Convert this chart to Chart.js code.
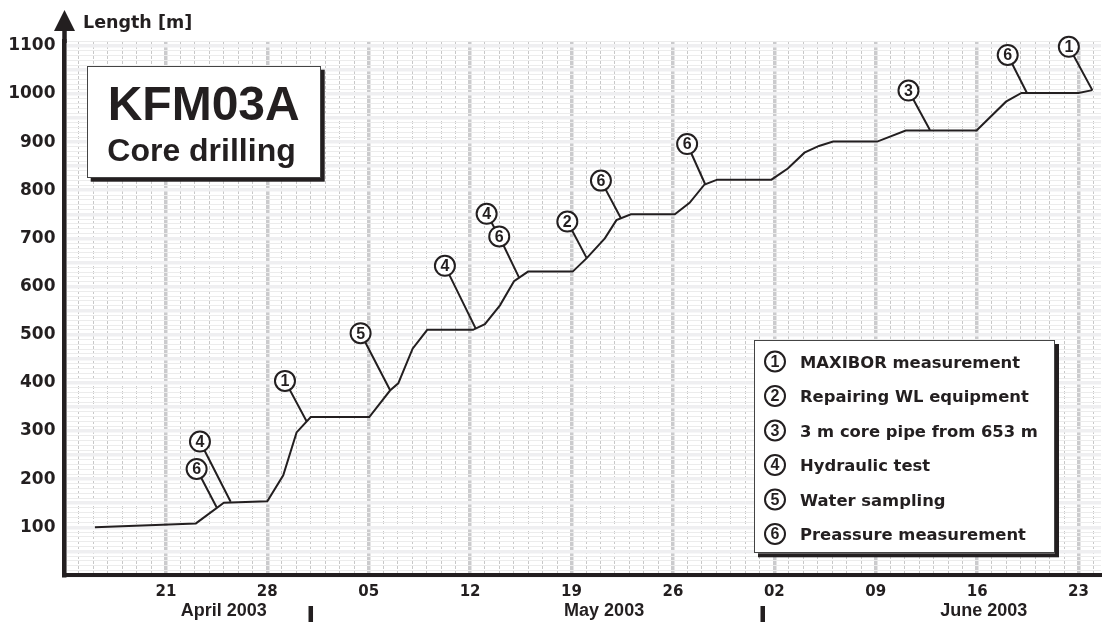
<!DOCTYPE html>
<html><head><meta charset="utf-8">
<script src="https://cdn.jsdelivr.net/npm/chart.js@4.4.0/dist/chart.umd.min.js"></script>
<style>html,body{margin:0;padding:0;background:#fff;}canvas{display:block;}</style>
</head><body>
<canvas id="c" width="1102" height="622"></canvas>
<script>
// Day numbers counted from 31 March 2003 (21 = 21 April, 35 = 5 May, 63 = 2 June)
const drillDays   = [16.1, 23.07, 25.0, 28.0, 29.1, 30.02, 31.0, 35.04, 36.47, 37.04, 38.03, 39.04, 42.2, 43.02, 44.06, 45.03, 46.0, 49.08, 50.05, 51.3, 52.1, 53.1, 56.13, 57.15, 58.18, 59.06, 62.8, 63.93, 65.08, 66.08, 67.06, 70.1, 72.07, 76.96, 78.99, 80.06, 84.0, 84.96];
const drillLength = [100, 108, 151, 154, 208, 297, 329, 329, 384, 399, 471, 510, 510, 522, 561, 611, 631, 631, 659, 700, 738, 750, 750, 774, 812, 822, 822, 845, 878, 892, 901, 901, 924, 924, 984, 1002, 1002, 1008];

const tickDays   = [21, 28, 35, 42, 49, 56, 63, 70, 77, 84];
const tickLabels = ['21', '28', '05', '12', '19', '26', '02', '09', '16', '23'];
const monthNames = ['April 2003', 'May 2003', 'June 2003'];
const monthCenterDays = [25.0, 51.25, 77.46];
const monthStartDays = [31, 62.2];

// Event callouts: circled number, circle position, point on the curve
const calloutNums = [6, 4, 1, 5, 4, 4, 6, 2, 6, 6, 3, 6, 1];
const calloutDays = [23.12, 23.35, 29.22, 34.44, 40.26, 43.14, 44.01, 48.71, 51.03, 56.98, 72.26, 79.11, 83.33];
const calloutLens = [221, 278, 404, 503, 643, 751, 704, 735, 820, 896, 1007, 1081, 1098];
const targetDays  = [24.5, 25.47, 30.71, 36.47, 42.38, 44.01, 45.39, 50.05, 52.41, 58.22, 73.74, 80.42, 84.95];
const targetLens  = [141.5, 153, 320, 385, 513, 704, 618, 659, 742, 813, 925, 1003, 1008];

const legendNums  = ['1', '2', '3', '4', '5', '6'];
const legendTexts = ['MAXIBOR measurement', 'Repairing WL equipment', '3 m core pipe from 653 m', 'Hydraulic test', 'Water sampling', 'Preassure measurement'];

const titleText = 'KFM03A';
const subtitleText = 'Core drilling';
const yAxisTitle = 'Length [m]';

const INK = '#231f20';

const mainData = drillDays.map((d, i) => ({x: d, y: drillLength[i]}));
const leaderData = [];
calloutDays.forEach((d, i) => {
  leaderData.push({x: d, y: calloutLens[i]});
  leaderData.push({x: targetDays[i], y: targetLens[i]});
  leaderData.push({x: targetDays[i], y: null});
});
const circleData = calloutDays.map((d, i) => ({x: d, y: calloutLens[i]}));

function isInt(v) { return Math.abs(v - Math.round(v)) < 1e-6; }

function drawBox(ctx, x, y, w, h) {
  ctx.fillStyle = INK;
  ctx.fillRect(x + 4, y + 4, w, h);
  ctx.fillStyle = '#ffffff';
  ctx.fillRect(x, y, w, h);
  ctx.strokeStyle = '#444444';
  ctx.lineWidth = 1;
  ctx.strokeRect(Math.round(x) + 0.5, Math.round(y) + 0.5, Math.round(w) - 1, Math.round(h) - 1);
}

function circledNumber(ctx, x, y, txt) {
  ctx.beginPath();
  ctx.arc(x, y, 10, 0, Math.PI * 2);
  ctx.fillStyle = '#fff';
  ctx.fill();
  ctx.lineWidth = 2;
  ctx.strokeStyle = INK;
  ctx.stroke();
  ctx.fillStyle = INK;
  ctx.font = 'bold 16px "Liberation Sans"';
  ctx.textAlign = 'center';
  ctx.textBaseline = 'middle';
  ctx.fillText(txt, x, y + 1);
}

const overlay = {
  id: 'overlay',
  afterDatasetsDraw(chart) {
    const ctx = chart.ctx;
    const meta = chart.getDatasetMeta(2);
    ctx.save();
    ctx.fillStyle = INK;
    ctx.font = 'bold 16px "Liberation Sans"';
    ctx.textAlign = 'center';
    ctx.textBaseline = 'middle';
    meta.data.forEach((el, i) => {
      ctx.fillText(String(calloutNums[i]), el.x, el.y + 1);
    });
    ctx.restore();
  },
  afterDraw(chart) {
    const ctx = chart.ctx;
    const xs = chart.scales.x;
    const ca = chart.chartArea;
    ctx.save();
    // y axis arrow
    ctx.strokeStyle = INK;
    ctx.fillStyle = INK;
    ctx.lineWidth = 4.5;
    ctx.beginPath();
    ctx.moveTo(ca.left, ca.top + 2);
    ctx.lineTo(ca.left, 26);
    ctx.stroke();
    ctx.beginPath();
    ctx.moveTo(ca.left, 10);
    ctx.lineTo(ca.left - 10.5, 31);
    ctx.lineTo(ca.left + 10.5, 31);
    ctx.closePath();
    ctx.fill();
    // axis title
    ctx.font = 'bold 17.5px "DejaVu Sans"';
    ctx.textAlign = 'left';
    ctx.textBaseline = 'alphabetic';
    ctx.fillText(yAxisTitle, 83, 27.5);
    // month labels and separators
    ctx.font = 'bold 18px "Liberation Sans"';
    ctx.textAlign = 'center';
    monthNames.forEach((m, i) => {
      ctx.fillText(m, xs.getPixelForValue(monthCenterDays[i]), 616);
    });
    monthStartDays.forEach(d => {
      const x = xs.getPixelForValue(d);
      ctx.fillRect(x - 2.25, 606, 4.5, 16);
    });
    // title box
    drawBox(ctx, 86.7, 65.7, 234, 112);
    ctx.fillStyle = INK;
    ctx.textAlign = 'center';
    ctx.textBaseline = 'alphabetic';
    ctx.font = 'bold 48px "Liberation Sans"';
    ctx.fillText(titleText, 203.7, 120);
    ctx.font = 'bold 32px "Liberation Sans"';
    ctx.fillText(subtitleText, 201.5, 160.5);
    // legend box
    drawBox(ctx, 754, 340, 301, 213.3);
    legendNums.forEach((n, i) => {
      const yc = 361.5 + i * 34.5;
      circledNumber(ctx, 775, yc, n);
      ctx.fillStyle = INK;
      ctx.font = 'bold 16.4px "DejaVu Sans"';
      ctx.textAlign = 'left';
      ctx.textBaseline = 'alphabetic';
      ctx.fillText(legendTexts[i], 800, yc + 6);
    });
    ctx.restore();
  }
};

new Chart(document.getElementById('c'), {
  type: 'line',
  data: {
    datasets: [
      {label: 'Length', data: mainData, borderColor: INK, borderWidth: 2, pointRadius: 0, tension: 0, order: 2, clip: false},
      {label: 'leaders', data: leaderData, borderColor: INK, borderWidth: 2, pointRadius: 0, spanGaps: false, tension: 0, order: 3, clip: false},
      {label: 'callouts', data: circleData, showLine: false, pointRadius: 10, pointHoverRadius: 10,
       pointBackgroundColor: '#ffffff', pointBorderColor: INK, pointBorderWidth: 2, order: 1, clip: false}
    ]
  },
  options: {
    responsive: false,
    animation: false,
    devicePixelRatio: 1,
    events: [],
    layout: {autoPadding: false, padding: {top: 41, right: 1, left: 0, bottom: 0}},
    plugins: {legend: {display: false}, tooltip: {enabled: false}},
    scales: {
      x: {
        type: 'linear', position: 'bottom', min: 14, max: 85.55,
        afterFit(s) { s.height = 46.6; s.paddingLeft = 0; s.paddingRight = 0; },
        ticks: {
          stepSize: 1, autoSkip: false, maxRotation: 0, includeBounds: false, padding: 8,
          color: INK, font: {family: 'DejaVu Sans', weight: 'bold', size: 15},
          callback: (v) => { if (!isInt(v)) return ''; const k = tickDays.indexOf(Math.round(v)); return k >= 0 ? tickLabels[k] : ''; }
        },
        grid: {
          drawTicks: false,
          color: (c) => (c.tick && isInt(c.tick.value) && Math.round(c.tick.value) % 7 === 0) ? '#cbcbcd' : 'rgba(0,0,0,0)',
          lineWidth: (c) => (c.tick && isInt(c.tick.value) && Math.round(c.tick.value) % 7 === 0) ? 3.5 : 1
        },
        border: {display: true, color: INK, width: 4}
      },
      x2: {
        type: 'linear', position: 'bottom', min: 14, max: 85.55,
        afterFit(s) { s.height = 0; s.paddingLeft = 0; s.paddingRight = 0; },
        ticks: {display: false, stepSize: 1, autoSkip: false, includeBounds: false},
        grid: {
          drawTicks: false,
          color: (c) => (c.tick && isInt(c.tick.value) && Math.round(c.tick.value) % 7 !== 0) ? '#c8c8c8' : 'rgba(0,0,0,0)',
          lineWidth: 1
        },
        border: {display: false, dash: [3, 2]}
      },
      y: {
        type: 'linear', min: 0, max: 1110,
        afterFit(s) { s.width = 64.5; },
        ticks: {
          stepSize: 10, autoSkip: false, padding: 9, color: INK,
          font: {family: 'DejaVu Sans', weight: 'bold', size: 17},
          callback: (v) => { const r = Math.round(v); return (isInt(v) && r > 0 && r % 100 === 0) ? String(r) : ''; }
        },
        grid: {
          drawTicks: false,
          color: (c) => (c.tick && Math.round(c.tick.value) % 50 === 0) ? '#efeff1' : '#ececec',
          lineWidth: (c) => (c.tick && Math.round(c.tick.value) % 50 === 0) ? 3.5 : 1
        },
        border: {display: true, color: INK, width: 4.5}
      }
    }
  },
  plugins: [overlay]
});
</script>
</body></html>
